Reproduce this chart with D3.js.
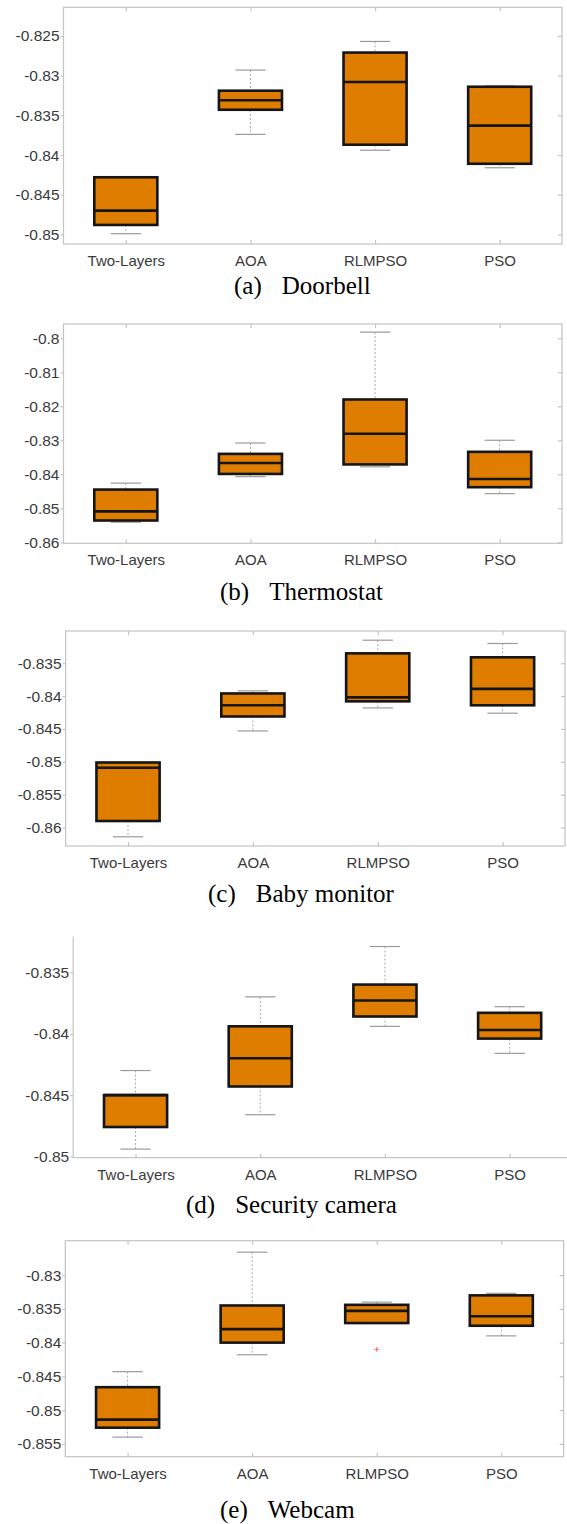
<!DOCTYPE html>
<html><head><meta charset="utf-8">
<script src="https://cdn.jsdelivr.net/npm/d3@7"></script>
<style>html,body{margin:0;padding:0;background:#fff;} svg{display:block;}</style>
</head><body>
<svg id="chart" width="567" height="1524"></svg>
<script>
const categories = ["Two-Layers", "AOA", "RLMPSO", "PSO"];

// each row: [lower whisker, Q1, median, Q3, upper whisker]
const doorbellStats = [
  [-0.8499, -0.8488, -0.8470, -0.8428, -0.8428],
  [-0.8374, -0.8343, -0.8331, -0.8319, -0.8293],
  [-0.8394, -0.8387, -0.8308, -0.8271, -0.8257],
  [-0.8416, -0.8411, -0.8363, -0.8314, -0.8313]
];
const thermostatStats = [
  [-0.8541, -0.8536, -0.8509, -0.8445, -0.8426],
  [-0.8407, -0.8399, -0.8367, -0.8340, -0.8308],
  [-0.8378, -0.8371, -0.8281, -0.8180, -0.7982],
  [-0.8457, -0.8438, -0.8414, -0.8334, -0.8300]
];
const babyMonitorStats = [
  [-0.8614, -0.8590, -0.8509, -0.8501, -0.8501],
  [-0.8453, -0.8431, -0.8414, -0.8396, -0.8392],
  [-0.8418, -0.8408, -0.8402, -0.8335, -0.8315],
  [-0.8426, -0.8414, -0.8389, -0.8341, -0.8320]
];
const securityCameraStats = [
  [-0.8494, -0.8476, -0.8450, -0.8450, -0.8430],
  [-0.8466, -0.8443, -0.8420, -0.8394, -0.8370],
  [-0.8394, -0.8386, -0.8373, -0.8360, -0.8329],
  [-0.8416, -0.8404, -0.8397, -0.8383, -0.8378]
];
const webcamStats = [
  [-0.8540, -0.8526, -0.8514, -0.8466, -0.8443],
  [-0.8418, -0.8400, -0.8380, -0.8345, -0.8266],
  [-0.8371, -0.8371, -0.8353, -0.8344, -0.8340],
  [-0.8390, -0.8375, -0.8361, -0.8330, -0.8327]
];
const webcamOutliers = [["RLMPSO", -0.8410]];

const doorbellTicks = [-0.85, -0.845, -0.84, -0.835, -0.83, -0.825];
const thermostatTicks = [-0.86, -0.85, -0.84, -0.83, -0.82, -0.81, -0.8];
const babyMonitorTicks = [-0.86, -0.855, -0.85, -0.845, -0.84, -0.835];
const securityCameraTicks = [-0.85, -0.845, -0.84, -0.835];
const webcamTicks = [-0.855, -0.85, -0.845, -0.84, -0.835, -0.83];

const captionLetters = ["(a)", "(b)", "(c)", "(d)", "(e)"];
const captionNames = ["Doorbell", "Thermostat", "Baby monitor", "Security camera", "Webcam"];

const panels = [
  {stats: doorbellStats, ticks: doorbellTicks, outliers: []},
  {stats: thermostatStats, ticks: thermostatTicks, outliers: []},
  {stats: babyMonitorStats, ticks: babyMonitorTicks, outliers: []},
  {stats: securityCameraStats, ticks: securityCameraTicks, outliers: []},
  {stats: webcamStats, ticks: webcamTicks, outliers: webcamOutliers}
];

// layout (pixel geometry and axis extents)
const layout = [
  {left: 63.5, right: 562, top: 7.3, bottom: 244, domain: [-0.8512, -0.8214], capX: 234, capY: 294, frame: true},
  {left: 63.5, right: 562, top: 324, bottom: 543.3, domain: [-0.8603, -0.7958], capX: 220, capY: 600, frame: true},
  {left: 65.6, right: 565, top: 631, bottom: 846, domain: [-0.8628, -0.8301], capX: 208, capY: 902, frame: true},
  {left: 73.2, right: 572, top: 936.7, bottom: 1157.7, domain: [-0.8501, -0.8321], capX: 186, capY: 1213, frame: false},
  {left: 65.3, right: 563.6, top: 1240.7, bottom: 1456.7, domain: [-0.8569, -0.8249], capX: 220, capY: 1518, frame: true}
];

const svg = d3.select("#chart");
const fmt = v => String(+v.toFixed(4));
const FRAME = "#c4c4c4";
const TEXT = "#3a3a3a";
const FILL = "#df7d00";

panels.forEach((p, i) => {
  const L = layout[i];
  const g = svg.append("g");
  const x = d3.scalePoint().domain(categories).range([L.left, L.right]).padding(0.5);
  const y = d3.scaleLinear().domain(L.domain).range([L.bottom, L.top]);
  const step = x.step();
  const bw = step * 0.506;
  const cw = bw * 0.48;

  // frame
  if (L.frame) {
    g.append("rect").attr("x", L.left).attr("y", L.top)
      .attr("width", L.right - L.left).attr("height", L.bottom - L.top)
      .attr("fill", "none").attr("stroke", FRAME).attr("stroke-width", 1.2);
  } else {
    g.append("line").attr("x1", L.left).attr("x2", L.left).attr("y1", L.top).attr("y2", L.bottom)
      .attr("stroke", FRAME).attr("stroke-width", 1.2);
    g.append("line").attr("x1", L.left).attr("x2", L.right).attr("y1", L.bottom).attr("y2", L.bottom)
      .attr("stroke", FRAME).attr("stroke-width", 1.2);
  }

  // left axis
  const ya = g.append("g").attr("transform", `translate(${L.left},0)`)
    .call(d3.axisLeft(y).tickValues(p.ticks).tickFormat(fmt).tickSize(3).tickPadding(1));
  ya.select(".domain").remove();
  ya.selectAll("line").attr("stroke", FRAME).attr("stroke-width", 1.2);
  ya.selectAll("text").attr("fill", TEXT)
    .style("font-family", "'Liberation Sans', Arial, sans-serif").style("font-size", "15.5px");

  if (L.frame) {
    const yr = g.append("g").attr("transform", `translate(${L.right},0)`)
      .call(d3.axisLeft(y).tickValues(p.ticks).tickFormat("").tickSize(4));
    yr.select(".domain").remove();
    yr.selectAll("line").attr("stroke", FRAME).attr("stroke-width", 1.2);
    const xt = g.append("g").attr("transform", `translate(0,${L.top})`)
      .call(d3.axisBottom(x).tickFormat("").tickSize(4));
    xt.select(".domain").remove();
    xt.selectAll("line").attr("stroke", FRAME).attr("stroke-width", 1.2);
  }

  // bottom axis (inward ticks) + labels
  const xb = g.append("g").attr("transform", `translate(0,${L.bottom})`)
    .call(d3.axisTop(x).tickSize(4).tickPadding(0));
  xb.select(".domain").remove();
  xb.selectAll("line").attr("stroke", FRAME).attr("stroke-width", 1.2);
  xb.selectAll("text").attr("y", 22).attr("dy", 0).attr("fill", TEXT)
    .style("font-family", "'Liberation Sans', Arial, sans-serif").style("font-size", "15px");

  // boxes
  const boxes = g.selectAll(".box").data(p.stats.map((s, k) => ({cat: categories[k], s})))
    .enter().append("g").attr("class", "box");

  boxes.append("line")
    .attr("x1", d => x(d.cat)).attr("x2", d => x(d.cat))
    .attr("y1", d => y(d.s[4])).attr("y2", d => y(d.s[3]))
    .attr("stroke", "#a8a8a8").attr("stroke-width", 1).attr("stroke-dasharray", "2,2");
  boxes.append("line")
    .attr("x1", d => x(d.cat)).attr("x2", d => x(d.cat))
    .attr("y1", d => y(d.s[1])).attr("y2", d => y(d.s[0]))
    .attr("stroke", "#a8a8a8").attr("stroke-width", 1).attr("stroke-dasharray", "2,2");
  [0, 4].forEach(j => {
    boxes.append("line")
      .attr("x1", d => x(d.cat) - cw / 2).attr("x2", d => x(d.cat) + cw / 2)
      .attr("y1", d => y(d.s[j])).attr("y2", d => y(d.s[j]))
      .attr("stroke", "#9a9a9a").attr("stroke-width", 1.2);
  });
  boxes.append("rect")
    .attr("x", d => x(d.cat) - bw / 2).attr("width", bw)
    .attr("y", d => y(d.s[3])).attr("height", d => y(d.s[1]) - y(d.s[3]))
    .attr("fill", FILL).attr("stroke", "#151515").attr("stroke-width", 2.6);
  boxes.append("line")
    .attr("x1", d => x(d.cat) - bw / 2).attr("x2", d => x(d.cat) + bw / 2)
    .attr("y1", d => y(d.s[2])).attr("y2", d => y(d.s[2]))
    .attr("stroke", "#151515").attr("stroke-width", 2.6);

  // outliers
  p.outliers.forEach(o => {
    const cx = x(o[0]), cy = y(o[1]);
    g.append("path").attr("d", `M${cx - 2.5},${cy}H${cx + 2.5}M${cx},${cy - 2.5}V${cy + 2.5}`)
      .attr("stroke", "#ff4a4a").attr("stroke-width", 0.8).attr("fill", "none");
  });

  // caption
  const cap = svg.append("text").attr("x", L.capX).attr("y", L.capY)
    .attr("fill", "#000")
    .style("font-family", "'Liberation Serif', 'Times New Roman', serif").style("font-size", "25px");
  cap.append("tspan").text(captionLetters[i]);
  cap.append("tspan").attr("dx", 20).text(captionNames[i]);
});
</script>
</body></html>
